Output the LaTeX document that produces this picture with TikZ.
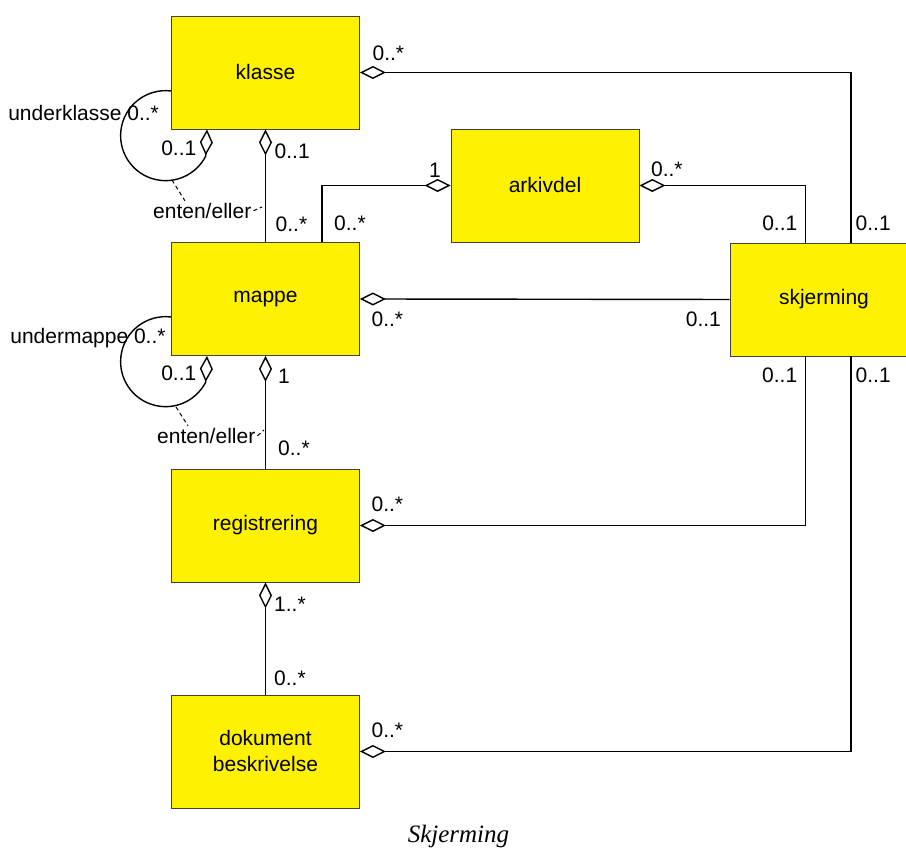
\documentclass[tikz,border=0pt]{standalone}
\usepackage{fontspec}
\setmainfont{Liberation Sans}
\newfontfamily\capfont{Liberation Serif}
\usetikzlibrary{arrows.meta,positioning,calc}

\begin{document}
\begin{tikzpicture}
[x=1pt,y=1pt,font=\fontsize{21}{26}\selectfont,
box/.style={draw=black!75,line width=0.8pt,fill=yellow,
minimum width=188pt,minimum height=113pt,align=center},
agg/.style={-{Diamond[open,length=26pt,width=13pt]},line width=1.4pt},
mult/.style={inner sep=0pt},
constr/.style={dash pattern=on 4pt off 3pt,line width=1pt}]
\useasboundingbox (0,0) rectangle (906,850);

\node (kl) at (265.5,777.5) [box] {klasse};
\node (ark) at (545,664.5) [box] {arkivdel};
\node (map) at (265.5,551) [box] {mappe};
\node (skj) at (824,550.5) [box] {skjerming};
\node (reg) at (265.5,324.5) [box] {registrering};
\node (dok) at (265.5,98.5) [box] {dokument\\beskrivelse};
\node (cap) at (458.5,7.5) [anchor=base,font=\capfont\itshape\fontsize{25}{30}\selectfont] {Skjerming};

\node (ee1) at (151,631.7) [anchor=base west,inner sep=2pt] {enten/eller};
\node (ee2) at (155,406.7) [anchor=base west,inner sep=2pt] {enten/eller};
\coordinate (kl-lp) at (172,670);
\coordinate (kl-or) at (262,643);
\coordinate (map-lp) at (176,443);
\coordinate (map-or) at (264,420);

\draw[agg] (map.north) -- (kl.south)
  node[at start,mult,above right=9.5pt and 9.5pt] {0..*}
  node[at end,mult,below right=14pt and 8.5pt] {0..1};
\draw[agg] ([xshift=56.5pt]map.north) |- (ark.west)
  node[at start,mult,above right=10.5pt and 11.5pt] {0..*}
  node[at end,mult,above left=7.5pt and 9pt] {1};
\draw[agg] ([xshift=-18.5pt]skj.north) |- (ark.east)
  node[at start,mult,above left=11pt and 7.5pt] {0..1}
  node[at end,mult,above right=8.5pt and 11pt] {0..*};
\draw[agg] ([xshift=27pt]skj.north) |- (kl.east)
  node[at start,mult,above right=11pt and 4pt] {0..1}
  node[at end,mult,above right=11pt and 12pt] {0..*};
\draw[agg] (skj.west) -- (map.east)
  node[at start,mult,below left=11.7pt and 8pt] {0..1}
  node[at end,mult,below right=12pt and 11pt] {0..*};
\draw[agg] (reg.north) -- (map.south)
  node[at start,mult,above right=12pt and 12pt] {0..*}
  node[at end,mult,below right=12pt and 12pt] {1};
\draw[agg] (dok.north) -- (reg.south)
  node[at start,mult,above right=8pt and 8pt] {0..*}
  node[at end,mult,below right=14pt and 8pt] {1..*};
\draw[agg] ([xshift=-18.5pt]skj.south) |- (reg.east)
  node[at start,mult,below left=10.7pt and 7.6pt] {0..1}
  node[at end,mult,above right=12.8pt and 11pt] {0..*};
\draw[agg] ([xshift=27pt]skj.south) |- (dok.east)
  node[at start,mult,below right=10.7pt and 4pt] {0..1}
  node[at end,mult,above right=13pt and 11pt] {0..*};

% self loops
\draw[agg] ([yshift=-18.5pt]kl.west)
  node[mult,anchor=base east,xshift=-11.5pt,yshift=-29.7pt] {underklasse 0..*}
  arc[start angle=83,end angle=333,radius=45pt] -- ([xshift=-58.5pt]kl.south)
  node[at end,mult,below left=11pt and 10pt] {0..1};
\draw[agg] ([yshift=-18pt]map.west)
  node[mult,anchor=base east,xshift=-4.8pt,yshift=-26.3pt] {undermappe 0..*}
  arc[start angle=83,end angle=333,radius=45pt] -- ([xshift=-58.5pt]map.south)
  node[at end,mult,below left=9.5pt and 10pt] {0..1};

\draw[constr] (kl-lp) -- ([xshift=34pt]ee1.north west);
\draw[constr] (ee1.east) -- (kl-or);
\draw[constr] (map-lp) -- ([xshift=33pt]ee2.north west);
\draw[constr] (ee2.east) -- (map-or);

\end{tikzpicture}
\end{document}
